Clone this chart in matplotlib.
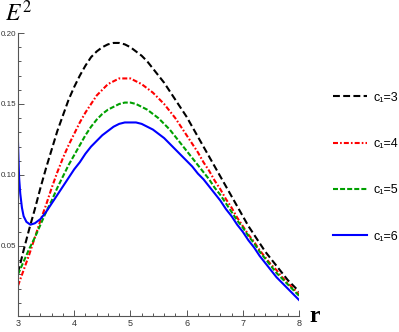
import matplotlib
matplotlib.use("Agg")
import matplotlib.pyplot as plt
from matplotlib.ticker import MultipleLocator

# values (r from 3 to 8 in steps of 0.1)
r_grid = [3.0, 3.1, 3.2, 3.3, 3.4, 3.5, 3.6, 3.7, 3.8, 3.9,
          4.0, 4.1, 4.2, 4.3, 4.4, 4.5, 4.6, 4.7, 4.8, 4.9,
          5.0, 5.1, 5.2, 5.3, 5.4, 5.5, 5.6, 5.7, 5.8, 5.9,
          6.0, 6.1, 6.2, 6.3, 6.4, 6.5, 6.6, 6.7, 6.8, 6.9,
          7.0, 7.1, 7.2, 7.3, 7.4, 7.5, 7.6, 7.7, 7.8, 7.9, 8.0]

E2_c3 = [0.031, 0.047, 0.062, 0.076, 0.091, 0.105, 0.118, 0.131, 0.142, 0.153,
         0.162, 0.170, 0.177, 0.183, 0.187, 0.190, 0.192, 0.193, 0.193, 0.192,
         0.190, 0.187, 0.184, 0.180, 0.175, 0.170, 0.165, 0.159, 0.153, 0.147,
         0.141, 0.134, 0.127, 0.120, 0.113, 0.106, 0.099, 0.092, 0.085, 0.078,
         0.071, 0.064, 0.058, 0.052, 0.046, 0.041, 0.036, 0.031, 0.026, 0.022, 0.018]

E2_c4 = [0.022, 0.033, 0.044, 0.056, 0.068, 0.079, 0.091, 0.102, 0.112, 0.121,
         0.129, 0.137, 0.144, 0.150, 0.156, 0.160, 0.164, 0.166, 0.168, 0.168,
         0.168, 0.166, 0.164, 0.161, 0.158, 0.154, 0.150, 0.145, 0.140, 0.134,
         0.128, 0.122, 0.116, 0.109, 0.103, 0.096, 0.090, 0.083, 0.077, 0.070,
         0.064, 0.058, 0.053, 0.047, 0.042, 0.037, 0.033, 0.028, 0.024, 0.020, 0.016]

E2_c5 = [0.030, 0.039, 0.048, 0.056, 0.065, 0.074, 0.082, 0.091, 0.099, 0.107,
         0.114, 0.121, 0.128, 0.134, 0.139, 0.143, 0.146, 0.148, 0.150, 0.151,
         0.151, 0.150, 0.148, 0.146, 0.143, 0.140, 0.136, 0.132, 0.127, 0.122,
         0.117, 0.112, 0.107, 0.102, 0.097, 0.091, 0.086, 0.080, 0.074, 0.068,
         0.063, 0.057, 0.052, 0.046, 0.041, 0.036, 0.031, 0.027, 0.023, 0.019, 0.015]

# c1=6 dips sharply right after r=3, so it gets extra points there
r_c6 = [3.00, 3.01, 3.02, 3.04, 3.07, 3.10, 3.15, 3.22, 3.30, 3.40, 3.50, 3.60,
        3.7, 3.8, 3.9, 4.0, 4.1, 4.2, 4.3, 4.4, 4.5, 4.6, 4.7, 4.8, 4.9,
        5.0, 5.1, 5.2, 5.3, 5.4, 5.5, 5.6, 5.7, 5.8, 5.9,
        6.0, 6.1, 6.2, 6.3, 6.4, 6.5, 6.6, 6.7, 6.8, 6.9,
        7.0, 7.1, 7.2, 7.3, 7.4, 7.5, 7.6, 7.7, 7.8, 7.9, 8.0]
E2_c6 = [0.123, 0.110, 0.098, 0.087, 0.077, 0.071, 0.067, 0.065, 0.066, 0.069, 0.074, 0.080,
         0.086, 0.092, 0.098, 0.104, 0.109, 0.115, 0.120, 0.124, 0.128, 0.131, 0.134, 0.136, 0.137,
         0.137, 0.137, 0.136, 0.134, 0.132, 0.129, 0.126, 0.122, 0.118, 0.114,
         0.110, 0.106, 0.101, 0.097, 0.092, 0.087, 0.082, 0.076, 0.071, 0.065,
         0.060, 0.054, 0.049, 0.043, 0.038, 0.033, 0.028, 0.024, 0.020, 0.016, 0.012]

labels = ["c\u2081=3", "c\u2081=4", "c\u2081=5", "c\u2081=6"]
yticks = [0.05, 0.10, 0.15, 0.20]
ytick_labels = ["0.05", "0.10", "0.15", "0.20"]

plt.rcParams['mathtext.fontset'] = 'stix'

fig = plt.figure(figsize=(3.99, 3.32), dpi=100)
ax = fig.add_axes([0.0451, 0.0482, 0.7043, 0.8524])

lw = 1.5
ax.plot(r_grid, E2_c3, color='black', lw=lw, dashes=(3.3, 1.6), label=labels[0])
ax.plot(r_grid, E2_c4, color='red', lw=lw, dashes=(2.4, 1.0, 0.8, 1.0), label=labels[1])
ax.plot(r_grid, E2_c5, color='#00a000', lw=lw, dashes=(2.4, 1.0), label=labels[2])
ax.plot(r_c6, E2_c6, color='blue', lw=lw, label=labels[3])

ax.set_xlim(3, 8)
ax.set_ylim(0.0007, 0.2)

# Mathematica-like axes
ax.spines['top'].set_visible(False)
ax.spines['right'].set_visible(False)
for s in ['left', 'bottom']:
    ax.spines[s].set_color('#555555')
    ax.spines[s].set_linewidth(0.8)

ax.xaxis.set_major_locator(MultipleLocator(1))
ax.xaxis.set_minor_locator(MultipleLocator(0.2))
ax.yaxis.set_minor_locator(MultipleLocator(0.01))
ax.set_yticks(yticks)
ax.set_yticklabels(ytick_labels)

ax.tick_params(which='both', direction='in', color='#555555', labelcolor='#333333',
               labelsize=6.5, width=0.7)
ax.tick_params(which='major', length=4, pad=2)
ax.tick_params(axis='y', which='major', pad=1, labelsize=5.8)
ax.tick_params(which='minor', length=2.3)
for t in ax.get_xticklabels() + ax.get_yticklabels():
    t.set_family('Liberation Sans')

fig.text(0.012, 0.935, r'$E^{2}$', fontsize=17)
fig.text(0.775, 0.048, 'r', fontsize=17, fontweight='bold', family='Liberation Serif',
         va='center')

ax.legend(loc='upper left', bbox_to_anchor=(0.835, 0.724), bbox_transform=fig.transFigure,
          frameon=False, handlelength=2.7, handletextpad=0.55, labelspacing=2.75,
          borderaxespad=0, borderpad=0,
          prop={'family': 'Liberation Sans', 'size': 9})

fig.savefig("out.png", dpi=100)
